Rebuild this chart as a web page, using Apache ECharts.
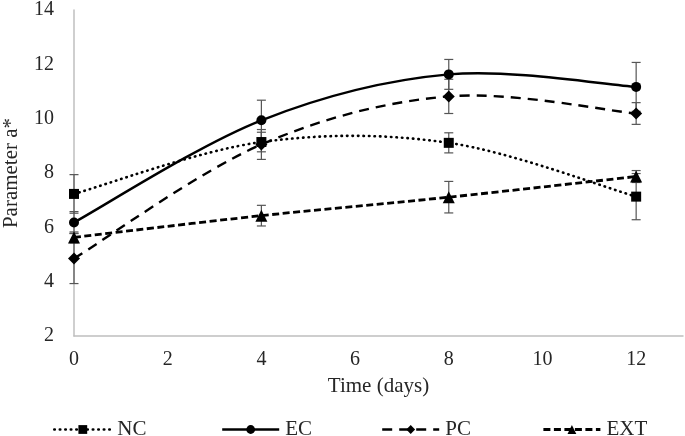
<!DOCTYPE html>
<html>
<head>
<meta charset="utf-8">
<script src="https://cdn.jsdelivr.net/npm/echarts@6/dist/echarts.min.js"></script>
<style>html,body{margin:0;padding:0;background:#fff}#c{width:685px;height:436px}</style>
</head>
<body>
<div id="c"></div>
<script>
var days = [0, 4, 8, 12];
var xTicks = [0, 2, 4, 6, 8, 10, 12];
var yTicks = [2, 4, 6, 8, 10, 12, 14];
var NC = [7.23, 9.14, 9.11, 7.13];
var NC_err = [0.71, 0.36, 0.37, 0.85];
var EC = [6.18, 9.94, 11.63, 11.17];
var EC_err = [0.40, 0.74, 0.55, 0.90];
var PC = [4.85, 9.05, 10.82, 10.19];
var PC_err = [0.92, 0.55, 0.63, 0.40];
var EXT = [5.63, 6.43, 7.11, 7.87];
var EXT_err = [0.20, 0.38, 0.58, 0.22];
var names = ['NC', 'EC', 'PC', 'EXT'];

var font = 'Liberation Serif';
var txt = '#262626';

var styles = {
  NC: { type: [0.5, 5], width: 2.6, cap: 'round', symbol: 'rect', size: 10 },
  EC: { type: 'solid', width: 2.4, cap: 'butt', symbol: 'circle', size: 10 },
  PC: { type: [10, 7], width: 2.4, cap: 'butt', symbol: 'diamond', size: 12 },
  EXT: { type: [7, 3.5], width: 2.8, cap: 'butt', symbol: 'triangle', size: 12 }
};

function pts(vals) { return days.map(function (d, i) { return [d, vals[i]]; }); }
function errData(vals, errs) { return days.map(function (d, i) { return [d, vals[i] - errs[i], vals[i] + errs[i]]; }); }

function errSeries(vals, errs) {
  return {
    type: 'custom',
    silent: true,
    z: 1,
    data: errData(vals, errs),
    renderItem: function (params, api) {
      var lo = api.coord([api.value(0), api.value(1)]);
      var hi = api.coord([api.value(0), api.value(2)]);
      var w = 4.5;
      var st = { stroke: '#555', lineWidth: 1.2 };
      return {
        type: 'group',
        children: [
          { type: 'line', shape: { x1: lo[0], y1: lo[1], x2: hi[0], y2: hi[1] }, style: st },
          { type: 'line', shape: { x1: lo[0] - w, y1: lo[1], x2: lo[0] + w, y2: lo[1] }, style: st },
          { type: 'line', shape: { x1: hi[0] - w, y1: hi[1], x2: hi[0] + w, y2: hi[1] }, style: st }
        ]
      };
    }
  };
}

// Smoothed curve (Excel-like Catmull-Rom bezier) drawn through the axis scales
function curveSeries(vals, st) {
  return {
    type: 'custom',
    silent: true,
    z: 2,
    data: pts(vals),
    renderItem: function (params, api) {
      if (params.dataIndex !== 0) return null;
      var p = days.map(function (d, i) { return api.coord([d, vals[i]]); });
      var n = p.length;
      var k = 1 / 6;
      var path = 'M' + p[0][0] + ' ' + p[0][1];
      for (var i = 0; i < n - 1; i++) {
        var a = p[Math.max(i - 1, 0)], b = p[i], c = p[i + 1], d = p[Math.min(i + 2, n - 1)];
        var c1x = b[0] + (c[0] - a[0]) * k, c1y = b[1] + (c[1] - a[1]) * k;
        var c2x = c[0] - (d[0] - b[0]) * k, c2y = c[1] - (d[1] - b[1]) * k;
        path += ' C' + c1x + ' ' + c1y + ' ' + c2x + ' ' + c2y + ' ' + c[0] + ' ' + c[1];
      }
      return {
        type: 'path',
        shape: { pathData: path },
        style: {
          fill: null, stroke: '#000', lineWidth: st.width,
          lineDash: st.type === 'solid' ? null : st.type, lineCap: st.cap
        }
      };
    }
  };
}

function markerSeries(name, vals, st) {
  return {
    name: name,
    type: 'line',
    z: 3,
    data: pts(vals),
    symbol: st.symbol,
    symbolSize: st.size,
    itemStyle: { color: '#000' },
    lineStyle: { color: '#000', width: 0, opacity: 0 }
  };
}

var legendLefts = [48, 216, 376, 537];
var legends = names.map(function (n, i) {
  var st = styles[n];
  return {
    data: [{ name: n }],
    left: legendLefts[i],
    top: 414,
    itemWidth: 57,
    itemHeight: 11,
    itemGap: 0,
    lineStyle: { color: '#000', width: st.width, type: st.type, cap: st.cap, opacity: 1 },
    textStyle: { fontFamily: font, fontSize: 21, color: txt, padding: [0, 0, 0, 1] },
    selectedMode: false
  };
});

var series = [
  errSeries(NC, NC_err), errSeries(EC, EC_err), errSeries(PC, PC_err), errSeries(EXT, EXT_err),
  curveSeries(NC, styles.NC), curveSeries(EC, styles.EC), curveSeries(PC, styles.PC), curveSeries(EXT, styles.EXT),
  markerSeries('NC', NC, styles.NC), markerSeries('EC', EC, styles.EC),
  markerSeries('PC', PC, styles.PC), markerSeries('EXT', EXT, styles.EXT)
];

var chart = echarts.init(document.getElementById('c'));
chart.setOption({
  animation: false,
  backgroundColor: '#fff',
  grid: { left: 74, right: 2, top: 10, bottom: 100, containLabel: false, outerBoundsMode: 'none' },
  legend: legends,
  xAxis: {
    type: 'value',
    min: 0, max: 13, interval: 2,
    name: 'Time (days)',
    nameLocation: 'middle',
    nameGap: 40,
    nameTextStyle: { fontFamily: font, fontSize: 21, color: txt },
    axisLine: { show: true, lineStyle: { color: '#bfbfbf', width: 1.5 } },
    axisTick: { show: false },
    splitLine: { show: false },
    axisLabel: { fontFamily: font, fontSize: 20, color: txt, margin: 14, customValues: xTicks }
  },
  yAxis: {
    type: 'value',
    min: 2, max: 14, interval: 2,
    name: 'Parameter a*',
    nameLocation: 'middle',
    nameGap: 52,
    nameTextStyle: { fontFamily: font, fontSize: 21, color: txt },
    axisLine: { show: true, lineStyle: { color: '#bfbfbf', width: 1.5 } },
    axisTick: { show: false },
    splitLine: { show: false },
    axisLabel: { fontFamily: font, fontSize: 20, color: txt, margin: 20, customValues: yTicks }
  },
  series: series
});
</script>
</body>
</html>
